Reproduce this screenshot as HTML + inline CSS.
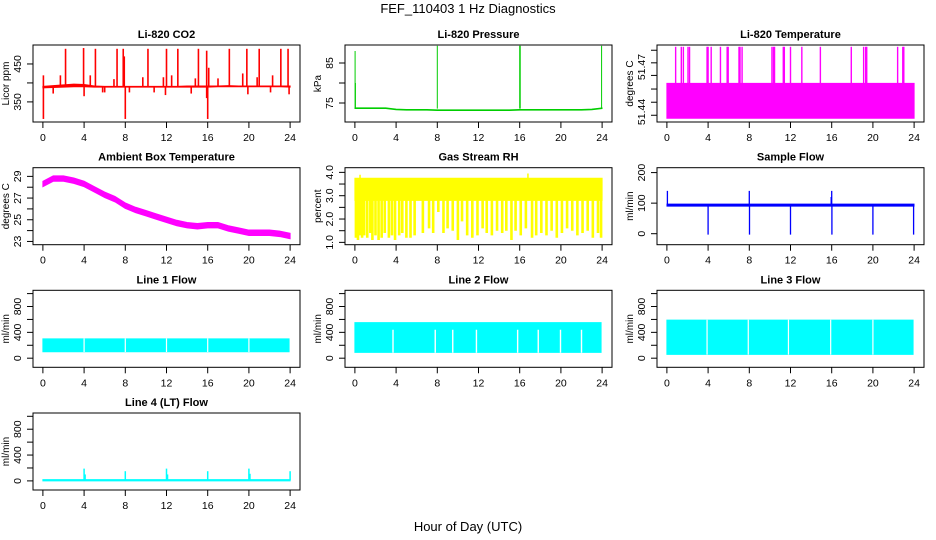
<!DOCTYPE html>
<html><head><meta charset="utf-8"><style>
html,body{margin:0;padding:0;background:#fff}
svg{display:block;font-family:"Liberation Sans",Arial,sans-serif}
</style></head><body>
<svg id="chart" width="936" height="540" viewBox="0 0 936 540">
<text x="468" y="13" text-anchor="middle" font-size="13">FEF_110403  1 Hz Diagnostics</text>
<text x="468" y="531" text-anchor="middle" font-size="13">Hour of Day (UTC)</text>
</svg>
<script>
// ---- data ----
const HRS=[0,1,2,3,4,5,6,7,8,9,10,11,12,13,14,15,16,17,18,19,20,21,22,23,24];
const xTicks=[0,4,8,12,16,20,24];
const co2Lo=[387,388,389,390,390,389,389,389,389,389,389,389,389,389,389,389,389,390,390,390,390,390,390,390,389];
const co2Hi=[391,393,395,397,396,392,391,391,391,391,391,391,391,391,392,392,392,392,393,392,392,392,392,392,392];
const co2SpikeT=[0.05,2.2,3.95,4.6,5.1,7.2,7.8,7.9,10.2,12.0,13.1,15.1,15.9,18.1,19.8,21.0,23.1,23.8,1.7,9.7,11.7,12.5,14.8,17.0,19.4,20.8,22.3,6.9,16.1,0.05,8.0,16.0,4.0,11.9,15.9,19.9,23.9,1.0,5.8,8.4,10.8,14.4,22.1,6.0];
const co2SpikeV=[420,490,492,420,490,490,490,470,490,490,490,490,485,490,490,490,490,490,420,415,415,420,412,412,425,415,420,410,440,305,305,305,365,368,360,370,370,372,375,375,375,372,375,375];
const presLo=[73.6,73.6,73.6,73.6,73.3,73.2,73.2,73.2,73.1,73.1,73.1,73.1,73.1,73.1,73.1,73.1,73.2,73.2,73.2,73.2,73.2,73.2,73.2,73.3,73.6];
const presHi=[73.8,73.8,73.8,73.8,73.5,73.4,73.4,73.4,73.3,73.3,73.3,73.3,73.3,73.3,73.3,73.3,73.4,73.4,73.4,73.4,73.4,73.4,73.4,73.5,73.8];
const presSpikeT=[0.02,0.05,8.0,16.0,16.05,23.95];
const presSpikeV=[88,80,89.3,89.3,89.3,89.3];
const tempT=[0,24];
const tempLo=[51.4358,51.4358];
const tempHi=[51.4591,51.4591];
const tempSpikeT=[0.85,1.4,1.6,2.05,2.2,3.9,4.0,4.3,5.2,5.85,5.95,7.0,7.1,7.3,10.2,10.35,10.45,11.3,11.4,12.0,13.1,14.9,17.9,19.1,19.3,19.4,22.4,22.9,23.0];
const tempSpikeV=51.4835;
const ambCenter=[28.3,28.8,28.8,28.6,28.3,27.8,27.3,26.9,26.3,25.9,25.6,25.3,25.0,24.7,24.5,24.4,24.5,24.5,24.2,24.0,23.8,23.8,23.8,23.7,23.5];
const ambHalfWidth=0.25;
const rhT=[0,24];
const rhLo=[2.8,2.8];
const rhHi=[3.75,3.75];
const rhDipT=[0.1,0.3,0.5,0.7,0.9,1.2,1.5,1.7,2.0,2.3,2.6,2.9,3.3,3.6,3.9,4.3,4.6,5.0,5.4,5.8,6.1,6.6,7.2,7.6,8.1,8.6,9.0,9.5,10.0,10.4,10.9,11.4,11.9,12.4,12.8,13.3,13.8,14.3,14.7,15.2,15.6,16.1,16.6,17.2,17.6,18.1,18.6,19.1,19.6,20.1,20.6,21.1,21.6,22.1,22.6,23.1,23.6,23.9];
const rhDipV=[1.2,1.1,1.3,1.2,1.3,1.2,1.4,1.1,1.3,1.1,1.2,1.4,1.2,1.3,1.1,1.3,1.4,1.2,1.2,1.3,3.0,1.4,1.6,1.4,2.3,1.4,1.6,1.5,1.1,1.9,1.3,1.2,1.3,1.6,1.4,1.3,1.5,1.4,1.5,1.1,1.5,1.3,1.6,1.2,1.3,1.4,1.3,1.5,1.2,1.4,1.6,1.5,1.3,1.4,1.5,1.2,1.4,1.2];
const rhPeakT=[0.5,16.8];
const rhPeakV=[3.9,3.95];
const sfT=[0,24];
const sfLo=[90,90];
const sfHi=[97,97];
const sfSpikeT=[0.05,8.0,16.0,15.95,4.0,8.02,12.0,16.02,20.0,23.95];
const sfSpikeV=[140,140,140,120,-3,-3,-3,-3,-3,-3];
const l1T=[0,23.9];
const l1Lo=[100,100];
const l1Hi=[300,300];
const l1GapT=[4,8,12,16,20];
const l2T=[0,23.9];
const l2Lo=[90,90];
const l2Hi=[550,550];
const l2GapT=[3.7,7.8,9.5,11.8,15.8,17.8,19.96,22.0];
const l3T=[0,23.9];
const l3Lo=[60,60];
const l3Hi=[590,590];
const l3GapT=[3.9,7.9,11.8,15.9,20.0];
const l4T=[0,24];
const l4Lo=[0,0];
const l4Hi=[20,20];
const l4SpikeT=[4,4.1,8,12,12.1,16,20,20.1,24];
const l4SpikeV=[190,100,150,190,100,150,190,110,150];

// ---- drawing ----
const NS='http://www.w3.org/2000/svg';
const svg=document.getElementById('chart');
function mk(tag,attrs,parent){const e=document.createElementNS(NS,tag);for(const k in attrs)e.setAttribute(k,attrs[k]);(parent||svg).appendChild(e);return e;}
const COLS=[33,345,657], ROWS=[45,167.7,290.3,413], W=267, H=77;
function panel(col,row,title,ylab,ymin,ymax,yticks,ylabels,name,labelVals){
  const L=COLS[col],T=ROWS[row];
  const g=mk('g',{});
  
  
  const xs=t=>L+(t+0.96)/25.92*W;
  const ys=v=>T+H-(v-ymin)/(ymax-ymin)*H;
  const t=mk('text',{x:L+W/2,y:T-7,'text-anchor':'middle','font-size':'11','font-weight':'bold'},g);
  t.textContent=title;
  
  
  const plot=mk('g',{},g);
  
  
  const xa=mk('g',{stroke:'#000','stroke-width':1},g);
  
  
  xTicks.forEach(v=>{
    mk('line',{x1:xs(v),x2:xs(v),y1:T+H,y2:T+H+6},xa);
    const tx=mk('text',{x:xs(v),y:T+H+19,'text-anchor':'middle','font-size':'10.5',stroke:'none',fill:'#000'},xa);
    tx.textContent=v;
  });
  const ya=mk('g',{stroke:'#000','stroke-width':1},g);
  
  
  const lv=labelVals||yticks;
  yticks.forEach(v=>mk('line',{x1:L-6,x2:L,y1:ys(v),y2:ys(v)},ya));
  lv.forEach((v,i)=>{
    if(ylabels[i]!==''){
      const tx=mk('text',{x:L-12,y:ys(v),'text-anchor':'middle','font-size':'10.5',stroke:'none',fill:'#000',transform:`rotate(-90 ${L-12} ${ys(v)})`},ya);
      tx.textContent=ylabels[i];
    }
  });
  const yl=mk('text',{x:L-24,y:T+H/2,'text-anchor':'middle','font-size':'10',transform:`rotate(-90 ${L-24} ${T+H/2})`},g);
  yl.textContent=ylab;
  
  
  const box=mk('rect',{x:L,y:T,width:W,height:H,fill:'none',stroke:'#000','stroke-width':1},g);
  
  
  const clip='clip'+name;
  const cp=mk('clipPath',{id:clip},g);mk('rect',{x:L,y:T,width:W,height:H},cp);
  plot.setAttribute('clip-path',`url(#${clip})`);
  return {xs,ys,plot};
}
function band(p,ts,lo,hi,color,name,sw){
  let pts=ts.map((t,i)=>p.xs(t)+','+p.ys(hi[i]));
  pts=pts.concat(ts.map((t,i)=>p.xs(t)+','+p.ys(lo[i])).reverse());
  const e=mk('polygon',{points:pts.join(' '),fill:color,stroke:color,'stroke-width':sw==null?1:sw},p.plot);
  
  
}
function vline(p,t,v0,v1,color,w,name){
  const e=mk('line',{x1:p.xs(t),x2:p.xs(t),y1:p.ys(v0),y2:p.ys(v1),stroke:color,'stroke-width':w},p.plot);
  
  
}

let p=panel(0,0,'Li-820 CO2','Licor ppm',297,500,[350,400,450],['350','','450'],'co2');
band(p,HRS,co2Lo,co2Hi,'#ff0000','co2-band');
co2SpikeT.forEach((t,i)=>vline(p,t,390,co2SpikeV[i],'#ff0000',1.6,'co2-spike'));

p=panel(1,0,'Li-820 Pressure','kPa',70.25,89.5,[75,80,85],['75','','85'],'pressure');
band(p,HRS,presLo,presHi,'#00cd00','pressure-band',0.8);
presSpikeT.forEach((t,i)=>vline(p,t,73.6,presSpikeV[i],'#00cd00',1,'pressure-spike'));

p=panel(2,0,'Li-820 Temperature','degrees C',51.4333,51.4847,[51.4378,51.4465,51.4553,51.4644,51.4728,51.4812],['51.44','51.47'],'li820-temp',[51.44,51.47]);
band(p,tempT,tempLo,tempHi,'#ff00ff','li820-temp-band');
tempSpikeT.forEach(t=>vline(p,t,51.45,tempSpikeV,'#ff00ff',1.4,'li820-temp-spike'));

p=panel(0,1,'Ambient Box Temperature','degrees C',22.7,29.8,[23,24,25,26,27,28,29],['23','','25','','27','','29'],'ambient');
band(p,HRS,ambCenter.map(v=>v-ambHalfWidth),ambCenter.map(v=>v+ambHalfWidth),'#ff00ff','ambient-band');

p=panel(1,1,'Gas Stream RH','percent',0.9,4.2,[1,1.5,2,2.5,3,3.5,4],['1.0','','2.0','','3.0','','4.0'],'rh');
band(p,rhT,rhLo,rhHi,'#ffff00','rh-band');
rhDipT.forEach((t,i)=>vline(p,t,3.5,rhDipV[i],'#ffff00',2.6,'rh-dip'));
rhPeakT.forEach((t,i)=>vline(p,t,3.5,rhPeakV[i],'#ffff00',1.5,'rh-peak'));

p=panel(2,1,'Sample Flow','ml/min',-36,216,[0,100,200],['0','100','200'],'sample-flow');
band(p,sfT,sfLo,sfHi,'#0000ff','sample-flow-band',0.8);
sfSpikeT.forEach((t,i)=>vline(p,t,93,sfSpikeV[i],'#0000ff',1.3,'sample-flow-spike'));

const flowTicks=[0,200,400,600,800,1000], flowLabels=['0','','400','','800',''];
p=panel(0,2,'Line 1 Flow','ml/min',-141,1051,flowTicks,flowLabels,'line1');
band(p,l1T,l1Lo,l1Hi,'#00ffff','line1-band');
l1GapT.forEach(t=>vline(p,t,l1Lo[0]-5,l1Hi[0]+5,'#ffffff',1.2,'line1-gap'));
p=panel(1,2,'Line 2 Flow','ml/min',-141,1051,flowTicks,flowLabels,'line2');
band(p,l2T,l2Lo,l2Hi,'#00ffff','line2-band');
l2GapT.forEach(t=>vline(p,t,l2Lo[0]-5,440,'#ffffff',1.4,'line2-gap'));
p=panel(2,2,'Line 3 Flow','ml/min',-141,1051,flowTicks,flowLabels,'line3');
band(p,l3T,l3Lo,l3Hi,'#00ffff','line3-band');
l3GapT.forEach(t=>vline(p,t,l3Lo[0]-5,l3Hi[0]+5,'#ffffff',1.2,'line3-gap'));
p=panel(0,3,'Line 4 (LT) Flow','ml/min',-141,1051,flowTicks,flowLabels,'line4');
band(p,l4T,l4Lo,l4Hi,'#00ffff','line4-band');
l4SpikeT.forEach((t,i)=>vline(p,t,10,l4SpikeV[i],'#00ffff',1.5,'line4-spike'));
</script>
</body></html>
